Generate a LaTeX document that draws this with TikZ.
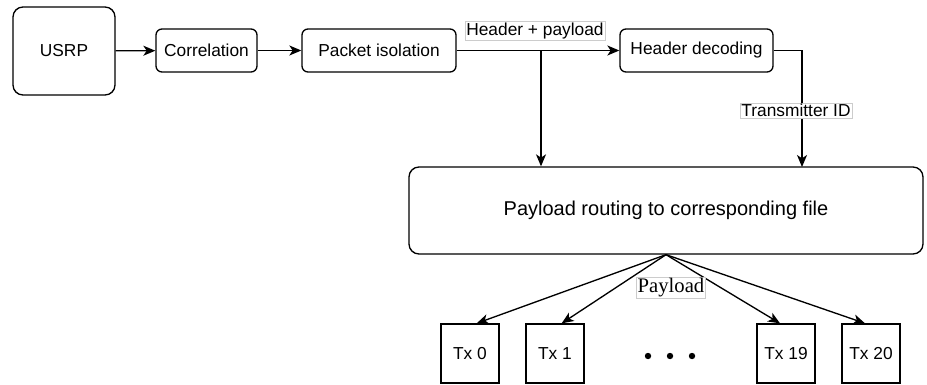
\documentclass[tikz,border=0pt]{standalone}
\usepackage{fontspec}
\setmainfont{Liberation Sans}
\newfontfamily\serifpl{Liberation Serif}
\usetikzlibrary{arrows.meta}

\tikzset{
  blk/.style={draw,line width=1pt,rounded corners=4.5pt,minimum height=32.25pt,
    font=\fontsize{13}{15}\selectfont,inner sep=0pt},
  txbox/.style={draw,line width=1pt,minimum width=43.5pt,minimum height=44.25pt,
    font=\fontsize{13}{15}\selectfont,inner sep=0pt},
  lbl/.style={draw=black!20,fill=white,line width=0.4pt,inner sep=1pt,
    font=\fontsize{13}{15}\selectfont},
  arr/.style={line width=1pt,-{Stealth[length=9pt,width=7.5pt,inset=2.5pt]}}
}

\begin{document}
\begin{tikzpicture}[x=0.75pt,y=-0.75pt]
\useasboundingbox (0,0) rectangle (927,385);

 \node[blk,rounded corners=7.5pt,minimum width=76.5pt,minimum height=66pt] (usrp) at (64,51) {USRP};
 \node[blk,minimum width=75.75pt] (corr) at (206.5,50.5) {Correlation};
 \node[blk,minimum width=115.5pt] (pkt) at (379,50.5) {Packet isolation};
 \node[blk,minimum width=114.75pt] (hdr) at (696.5,50.5) {Header decoding};

 \node[blk,rounded corners=7.5pt,minimum width=385.5pt,minimum height=65.25pt,
   font=\fontsize{15}{18}\selectfont] (route) at (666,210.5) {Payload routing to corresponding file};

 \node[txbox] (tx0) at (470,353.5) {Tx 0};
 \node[txbox] (tx1) at (555,353.5) {Tx 1};
 \node[txbox] (tx19) at (786,353.5) {Tx 19};
 \node[txbox] (tx20) at (871,353.5) {Tx 20};

 \coordinate (split) at (541,50.5);
 \coordinate (drop) at (802,167);

 \draw[arr] (usrp) -- (corr);
 \draw[arr] (corr) -- (pkt);
 \draw[arr] (pkt) -- (split) -- (hdr);
 \draw[arr] (split) -- (split |- route.north);
 \draw[arr] (hdr.east) -| (drop);

 \draw[arr] (route.south) -- ([xshift=5pt]tx0.north);
 \draw[arr] (route.south) -- ([xshift=5pt]tx1.north);
 \draw[arr] (route.south) -- ([xshift=-4.5pt]tx19.north);
 \draw[arr] (route.south) -- ([xshift=-4.5pt]tx20.north);

 \node[lbl] (hp) at (535,31) {Header + payload};
 \node[lbl] (tid) at (796,110.5) {Transmitter ID};
 \node[lbl,font=\serifpl\fontsize{15.5}{18}\selectfont] (pl) at (671,288) {Payload};

 \foreach \x in {648,670,692}
   \fill (\x,356) circle (2.4pt);
\end{tikzpicture}
\end{document}
